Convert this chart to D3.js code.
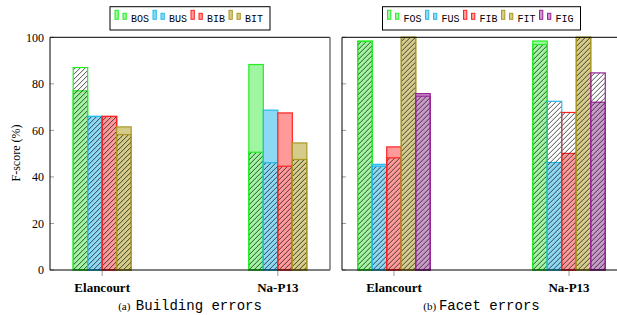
<!DOCTYPE html>
<html>
<head>
<meta charset="utf-8">
<script src="https://cdn.jsdelivr.net/npm/d3@7"></script>
<style>
  body { margin: 0; background: #fff; }
  svg { display: block; }
  .serif { font-family: "Liberation Serif", "DejaVu Serif", serif; }
  .mono { font-family: "Liberation Mono", "DejaVu Sans Mono", monospace; }
</style>
</head>
<body>
<div id="chart"></div>
<script>
const groups = ["Elancourt", "Na-P13"];
const yTicks = [0, 20, 40, 60, 80, 100];

const buildSeries = ["BOS", "BUS", "BIB", "BIT"];
const buildFill = [[77, 66, 66, 61.5], [88.3, 68.7, 67.5, 54.6]];
const buildHatch = [[87, 66, 66, 58.2], [50.6, 46.1, 44.6, 47.5]];

const facetSeries = ["FOS", "FUS", "FIB", "FIT", "FIG"];
const facetFill = [[98.4, 45.4, 52.9, 100, 75.8], [98.4, 46.2, 50.1, 100, 72.1]];
const facetHatch = [[98.2, 44.6, 48.2, 100, 74.7], [96.9, 72.5, 67.7, 100, 84.7]];

const palette = {
    green: { stroke: "#22ee22", fill: "#a0f5a0" },
    blue: { stroke: "#22bbee", fill: "#8dd8f5" },
    red: { stroke: "#ff2222", fill: "#ff9a9a" },
    olive: { stroke: "#aa9922", fill: "#d5cb8b" },
    purple: { stroke: "#992299", fill: "#c99ac9" }
};
const buildColors = ["green", "blue", "red", "olive"];
const facetColors = ["green", "blue", "red", "olive", "purple"];

const svg = d3.select("#chart").append("svg")
    .attr("width", 617)
    .attr("height", 315);

// hatch pattern
svg.append("defs").append("pattern")
    .attr("id", "hatch")
    .attr("patternUnits", "userSpaceOnUse")
    .attr("width", 5)
    .attr("height", 5)
    .append("path")
    .attr("d", "M-1,1 l2,-2 M0,5 l5,-5 M4,6 l2,-2")
    .attr("stroke", "#111")
    .attr("stroke-width", 0.75);

const y = d3.scaleLinear().domain([0, 100]).range([270, 37.3]);
const barW = 14.5;

function drawPanel(x0, x1, series, colors, fillVals, hatchVals, showLabels, caption) {
    const g = svg.append("g");
    const x = d3.scalePoint().domain(groups).range([x0, x1]).padding(0.297);

    // y ticks
    g.selectAll(".ytick")
        .data(yTicks)
        .enter().append("line")
        .attr("x1", x0).attr("x2", x0 + 4)
        .attr("y1", d => y(d)).attr("y2", d => y(d))
        .attr("stroke", "#999");

    if (showLabels) {
        g.selectAll(".ylab")
            .data(yTicks)
            .enter().append("text")
            .attr("class", "serif")
            .attr("x", x0 - 6)
            .attr("y", d => y(d))
            .attr("dy", "0.35em")
            .attr("text-anchor", "end")
            .attr("font-size", 12)
            .text(d => d);
    }

    // x ticks
    g.selectAll(".xtick")
        .data(groups)
        .enter().append("line")
        .attr("x1", d => x(d)).attr("x2", d => x(d))
        .attr("y1", 266).attr("y2", 276)
        .attr("stroke", "#999");

    const inner = d3.scaleBand().domain(series).range([0, barW * series.length]);

    groups.forEach((grp, gi) => {
        const off = x(grp) - barW * series.length / 2;
        const bars = g.append("g").attr("transform", `translate(${off},0)`);
        series.forEach((s, si) => {
            const c = palette[colors[si]];
            bars.append("rect")
                .attr("x", inner(s))
                .attr("width", inner.bandwidth())
                .attr("y", y(fillVals[gi][si]))
                .attr("height", y(0) - y(fillVals[gi][si]))
                .attr("fill", c.fill)
                .attr("stroke", c.stroke)
                .attr("stroke-width", 1.2);
            bars.append("rect")
                .attr("x", inner(s))
                .attr("width", inner.bandwidth())
                .attr("y", y(hatchVals[gi][si]))
                .attr("height", y(0) - y(hatchVals[gi][si]))
                .attr("fill", "url(#hatch)")
                .attr("stroke", c.stroke)
                .attr("stroke-width", 1.2);
        });
    });

    // frame
    g.append("line").attr("x1", x0).attr("x2", x0).attr("y1", y(100)).attr("y2", y(0)).attr("stroke", "#000");
    g.append("line").attr("x1", x0).attr("x2", x1).attr("y1", y(100)).attr("y2", y(100)).attr("stroke", "#000");
    g.append("line").attr("x1", x0).attr("x2", x1).attr("y1", y(0)).attr("y2", y(0)).attr("stroke", "#000");
    g.append("line").attr("x1", x1).attr("x2", x1).attr("y1", y(100)).attr("y2", y(0))
        .attr("stroke", "#777").attr("stroke-width", 1.5);

    // category labels
    g.selectAll(".cat")
        .data(groups)
        .enter().append("text")
        .attr("class", "serif")
        .attr("x", d => x(d))
        .attr("y", 292)
        .attr("text-anchor", "middle")
        .attr("font-size", 13)
        .attr("font-weight", "bold")
        .text(d => d);

    // legend
    const step = 38;
    const lw = series.length * step + 8;
    const cx = (x0 + x1) / 2;
    const lx = cx - lw / 2;
    g.append("rect")
        .attr("x", lx).attr("y", 6.7)
        .attr("width", lw).attr("height", 23.3)
        .attr("fill", "#fff").attr("stroke", "#000");
    series.forEach((s, si) => {
        const c = palette[colors[si]];
        const ex = lx + 5 + si * step;
        g.append("rect").attr("x", ex).attr("y", 10.3).attr("width", 3.3).attr("height", 9)
            .attr("fill", c.fill).attr("stroke", c.stroke).attr("stroke-width", 1);
        g.append("rect").attr("x", ex + 8).attr("y", 13.3).attr("width", 3.3).attr("height", 6)
            .attr("fill", c.fill).attr("stroke", c.stroke).attr("stroke-width", 1);
        g.append("text").attr("class", "mono")
            .attr("x", ex + 16).attr("y", 22)
            .attr("font-size", 10)
            .text(s);
    });

    // caption
    const cap = g.append("text")
        .attr("x", cx)
        .attr("y", 310)
        .attr("text-anchor", "middle");
    cap.append("tspan").attr("class", "serif").attr("font-size", 11).text(caption[0]);
    cap.append("tspan").attr("class", "mono").attr("font-size", 14).text(caption[1]);
}

drawPanel(50, 330, buildSeries, buildColors, buildFill, buildHatch, true, ["(a)\u00a0\u00a0", "Building errors"]);
drawPanel(342, 621, facetSeries, facetColors, facetFill, facetHatch, false, ["(b)\u00a0", "Facet errors"]);

svg.append("text")
    .attr("class", "serif")
    .attr("transform", "translate(20,153) rotate(-90)")
    .attr("text-anchor", "middle")
    .attr("font-size", 12)
    .text("F-score (%)");
</script>
</body>
</html>
